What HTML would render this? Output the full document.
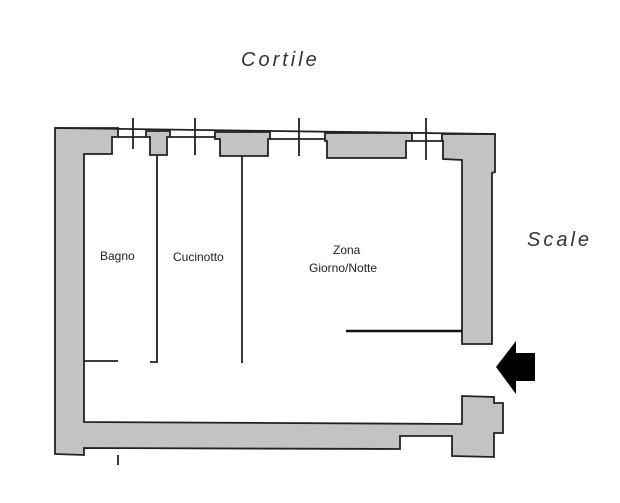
<!DOCTYPE html>
<html><head><meta charset="utf-8"><style>
html,body{margin:0;padding:0;background:#fff;}
svg{display:block}
text{font-family:"Liberation Sans",sans-serif;}
</style></head><body>
<svg width="620" height="503" viewBox="0 0 620 503" xmlns="http://www.w3.org/2000/svg">
<g fill="#c3c3c3" stroke="#222" stroke-width="1.8" stroke-linejoin="miter">
<path d="M55,128 L118,128 L118,137 L112,137 L112,154 L84,154 L84,422 L462,424 L462,396 L494,397 L494,403 L503,403 L503,433 L494,433 L494,457 L452,456 L452,436 L400,436 L400,449 L84,448 L84,455 L55,454 Z"/>
<path d="M146,131 L170,131 L170,137 L167,137 L167,155 L150,155 L150,137 L146,137 Z"/>
<path d="M215,132 L270,132 L270,139 L268,139 L268,156 L220,156 L220,139 L215,139 Z"/>
<path d="M325,133 L412,133 L412,141 L406,141 L406,158 L327,158 L327,141 L325,141 Z"/>
<path d="M442,134 L495,134 L495,172 L492,173 L492,344 L462,344 L462,160 L443,159 L443,141 L442,141 Z"/>
</g>
<g stroke="#222" stroke-width="1.8" fill="none">
<path d="M55,128 L495,134"/>
<path d="M118,137 L146,137"/>
<path d="M170,137 L215,137"/>
<path d="M270,139 L325,139"/>
<path d="M412,141 L442,141"/>
<path d="M133,118 L133,149 M195,118 L195,155 M299,118 L299,156 M426,118 L426,160"/>
<path d="M157,155 L157,362 L150,362 M242,156 L242,363"/>
<path d="M84,361 L118,361"/>
<path d="M118,455 L118,465"/>
</g>
<path d="M346,331 L462,331" stroke="#111" stroke-width="2.5"/>
<path d="M496,367 L516,341 L516,353 L535,353 L535,381 L516,381 L516,394 Z" fill="#000"/>
<g fill="#222" font-size="12">
<text x="100" y="260">Bagno</text>
<text x="173" y="261">Cucinotto</text>
<text x="333" y="254">Zona</text>
<text x="309" y="272">Giorno/Notte</text>
</g>
<g fill="#333" font-family="Liberation Serif,serif" font-style="italic" font-size="20" letter-spacing="3">
<text x="241" y="66">Cortile</text>
<text x="527" y="246">Scale</text>
</g>
</svg>
</body></html>
